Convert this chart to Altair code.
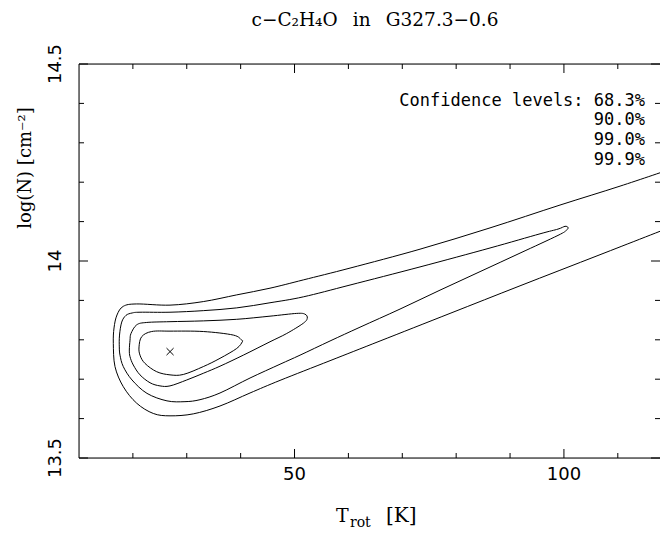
import altair as alt
import pandas as pd

# ---------------- data ----------------
title_text = "c\u2212C\u2082H\u2084O\u2002 in\u2002 G327.3\u22120.6"
legend_lines = ["Confidence levels: 68.3%", "90.0%", "99.0%", "99.9%"]

x_major = [50, 100]
x_minor = [20, 30, 40, 60, 70, 80, 90, 110]
y_major = [13.5, 14.0, 14.5]
y_minor = [13.6, 13.7, 13.8, 13.9, 14.1, 14.2, 14.3, 14.4]
x_labels = ["50", "100"]
y_labels = ["13.5", "14", "14.5"]

best_T = [26.9]
best_N = [13.770]

c683_T = [21.14, 21.64, 23.49, 26.89, 33.07, 38.64, 40.20, 40.31, 39.27, 36.17,
          33.07, 29.36, 26.89, 24.42, 22.25, 21.32]
c683_N = [13.782, 13.808, 13.821, 13.822, 13.821, 13.812, 13.799, 13.795, 13.778, 13.753,
          13.732, 13.712, 13.711, 13.719, 13.740, 13.761]

c900_T = [19.34, 19.47, 19.65, 20.71, 22.57, 26.89, 33.07, 39.27, 45.45, 50.41,
          51.95, 52.37, 51.63, 48.55, 45.45, 40.49, 36.17, 33.07, 29.99, 26.89,
          25.03, 23.18, 21.32, 20.08, 19.47]
c900_N = [13.774, 13.799, 13.816, 13.838, 13.844, 13.846, 13.848, 13.852, 13.860, 13.867,
          13.865, 13.855, 13.842, 13.816, 13.795, 13.761, 13.733, 13.715, 13.698, 13.683,
          13.683, 13.691, 13.711, 13.736, 13.757]

c990_T = [17.48, 17.52, 17.93, 18.72, 19.84, 21.32, 26.89, 33.07, 39.27, 45.45,
          51.63, 60.30, 73.29, 86.28, 95.56, 98.90, 100.20, 100.76, 100.46, 98.90,
          91.85, 84.43, 77.00, 69.58, 62.15, 56.59, 51.02, 47.31, 41.74, 36.17,
          32.46, 29.67, 26.33, 22.62, 19.84, 18.22, 17.61]
c990_N = [13.782, 13.812, 13.845, 13.862, 13.868, 13.870, 13.870, 13.874, 13.881, 13.894,
          13.909, 13.939, 13.985, 14.033, 14.069, 14.081, 14.088, 14.085, 14.078, 14.065,
          14.020, 13.973, 13.926, 13.878, 13.832, 13.797, 13.761, 13.738, 13.703, 13.665,
          13.648, 13.643, 13.645, 13.664, 13.698, 13.732, 13.761]

c999_T = [120.0, 110.41, 99.27, 86.28, 73.29, 60.30, 51.63, 45.45, 39.27, 33.07,
          26.89, 20.71, 18.22, 17.05, 16.50, 16.37, 16.68, 18.22, 20.71, 23.79,
          26.89, 31.21, 36.17, 41.74, 47.31, 56.59, 65.87, 78.86, 91.85, 106.70, 120.0]
c999_N = [14.234, 14.190, 14.142, 14.084, 14.030, 13.982, 13.952, 13.931, 13.914, 13.897,
          13.888, 13.891, 13.885, 13.863, 13.830, 13.791, 13.732, 13.681, 13.639, 13.613,
          13.607, 13.612, 13.632, 13.665, 13.697, 13.747, 13.797, 13.867, 13.937, 14.016, 14.087]

# ---------------- layout ----------------
W, H = 581, 394
X_MAX = 117.83
SANS = "DejaVu Sans"
MONO = "DejaVu Sans Mono"
SERIF = "DejaVu Serif"

rows = []
for lvl, TT, NN in [("68.3%", c683_T, c683_N), ("90.0%", c900_T, c900_N),
                    ("99.0%", c990_T, c990_N), ("99.9%", c999_T, c999_N)]:
    for i, (t, n) in enumerate(zip(TT, NN)):
        rows.append({"level": lvl, "i": i, "T": t, "logN": n})
df = pd.DataFrame(rows)

xs = alt.Scale(domain=[10, X_MAX], nice=False, zero=False)
ys = alt.Scale(domain=[13.5, 14.5], nice=False, zero=False)
XE = dict(scale=xs, axis=None)
YE = dict(scale=ys, axis=None)

closed = alt.Chart(df).transform_filter("datum.level != '99.9%'").mark_line(
    interpolate="cardinal-closed", color="black", strokeWidth=1, clip=True
).encode(
    x=alt.X("T:Q", **XE),
    y=alt.Y("logN:Q", **YE),
    detail="level:N",
    order="i:Q",
)

opened = alt.Chart(df).transform_filter("datum.level == '99.9%'").mark_line(
    interpolate="cardinal", color="black", strokeWidth=1, clip=True
).encode(
    x=alt.X("T:Q", **XE),
    y=alt.Y("logN:Q", **YE),
    order="i:Q",
)

best = alt.Chart(pd.DataFrame({"T": best_T, "logN": best_N})).mark_point(
    shape="M -1 -1 L 1 1 M -1 1 L 1 -1", size=50, filled=False,
    color="black", strokeWidth=1, opacity=1
).encode(x=alt.X("T:Q", **XE), y=alt.Y("logN:Q", **YE))

one = pd.DataFrame({"a": [0]})
frame = [
    alt.Chart(one).mark_rule(color="black", strokeWidth=1).encode(
        x=alt.value(0), y=alt.value(0), y2=alt.value(H)),
    alt.Chart(one).mark_rule(color="black", strokeWidth=1).encode(
        x=alt.value(0), x2=alt.value(W + 5), y=alt.value(0)),
    alt.Chart(one).mark_rule(color="black", strokeWidth=1).encode(
        x=alt.value(0), x2=alt.value(W + 5), y=alt.value(H)),
]

def xticks(vals, length):
    d = pd.DataFrame({"T": vals})
    b = alt.Chart(d).mark_rule(color="black", strokeWidth=1).encode(
        x=alt.X("T:Q", **XE), y=alt.value(H), y2=alt.value(H - length))
    t = alt.Chart(d).mark_rule(color="black", strokeWidth=1).encode(
        x=alt.X("T:Q", **XE), y=alt.value(0), y2=alt.value(length))
    return [b, t]

def yticks(vals, length):
    d = pd.DataFrame({"logN": vals})
    l = alt.Chart(d).mark_rule(color="black", strokeWidth=1).encode(
        y=alt.Y("logN:Q", **YE), x=alt.value(0), x2=alt.value(length))
    r = alt.Chart(d).mark_rule(color="black", strokeWidth=1).encode(
        y=alt.Y("logN:Q", **YE), x=alt.value(W), x2=alt.value(W - length))
    return [l, r]

ticks = xticks(x_major, 9) + xticks(x_minor, 5) + yticks(y_major, 9) + yticks(y_minor, 5)

# tick labels placed through the scales
xlab = alt.Chart(pd.DataFrame({"T": x_major, "lab": x_labels})).mark_text(
    align="center", baseline="alphabetic", font=SANS, fontSize=18, color="black"
).encode(x=alt.X("T:Q", **XE), y=alt.value(H + 22), text="lab:N")

ylab = alt.Chart(pd.DataFrame({"logN": y_major, "lab": y_labels})).mark_text(
    align="center", baseline="alphabetic", font=SANS, fontSize=18, color="black", angle=270
).encode(y=alt.Y("logN:Q", **YE), x=alt.value(-18), text="lab:N")


def label(text, x, y, size, font, align="left", baseline="alphabetic", angle=0, **extra):
    kw = dict(align=align, baseline=baseline, font=font, fontSize=size, color="black", **extra)
    if angle:
        kw["angle"] = angle
    return alt.Chart(pd.DataFrame({"t": [text]})).mark_text(**kw).encode(
        text="t:N", x=alt.value(x), y=alt.value(y))

texts = [
    label(title_text, 296, -38, 18.5, SERIF, align="center"),
    label("T", 257, 458, 19, SERIF),
    label("rot", 271, 463, 14, SERIF),
    label("[K]", 307, 458, 20, SERIF),
    label("log(N) [cm\u207b\u00b2]", -53, 104, 18, SERIF, align="center",
          baseline="middle", angle=270),
]
for k, line in enumerate(legend_lines):
    texts.append(label(line, 566, 41.5 + 19.8 * k, 17, MONO, align="right"))

chart = alt.layer(closed, opened, best, *frame, *ticks, xlab, ylab, *texts).properties(
    width=W, height=H,
    autosize=alt.AutoSizeParams(type="none"),
    padding={"left": 71, "top": 56, "right": 0, "bottom": 73},
).configure_view(stroke=None).configure(background="white")

chart.save("out.html", embed_options={"renderer": "svg", "actions": False})
